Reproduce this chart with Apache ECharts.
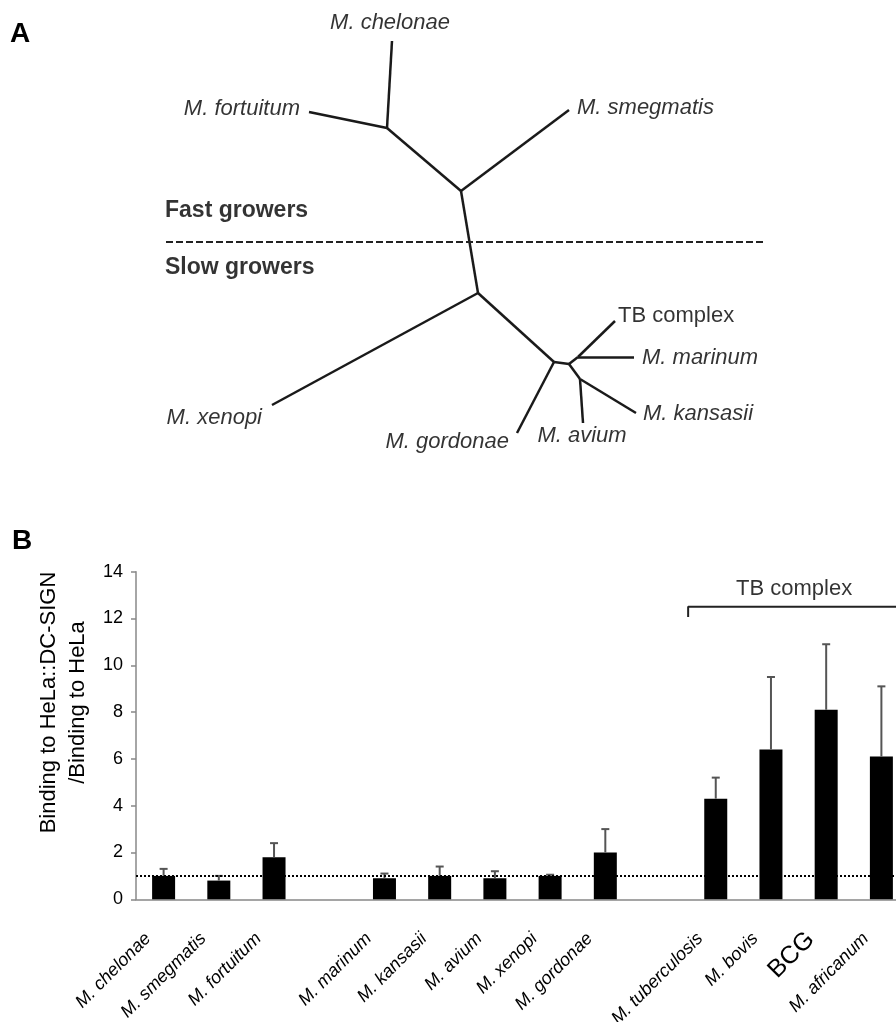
<!DOCTYPE html>
<html><head><meta charset="utf-8">
<script src="https://cdn.jsdelivr.net/npm/echarts@6/dist/echarts.min.js"></script>
<style>html,body{margin:0;padding:0;background:#fff}#c{width:896px;height:1022px}</style>
</head><body><div id="c"></div>
<script>
// ---------- Panel B data ----------
const categories = ['M. chelonae','M. smegmatis','M. fortuitum','','M. marinum','M. kansasii','M. avium','M. xenopi','M. gordonae','','M. tuberculosis','M. bovis','BCG','M. africanum'];
const means      = [1.0, 0.8, 1.8, null, 0.9, 1.0, 0.9, 1.0, 2.0, null, 4.3, 6.4, 8.1, 6.1];
const errorTops  = [1.3, 1.0, 2.4, null, 1.1, 1.4, 1.2, 1.05, 3.0, null, 5.2, 9.5, 10.9, 9.1];
const yMin = 0, yMax = 14, yStep = 2;
const referenceLevel = 1;
const yTitle = 'Binding to HeLa::DC-SIGN\n/Binding to HeLa';
const bracketLabel = 'TB complex';
const bracketStart = 10, bracketEnd = 14.5, bracketLevel = 12.5, bracketFoot = 12.06;

// ---------- Panel A data (unrooted tree layout) ----------
const treeNodeIds = ['chelonae','fortuitum','smegmatis','F1','F0','S0','xenopi','S1','gordonae','S2','M','TB','marinum','S3','avium','kansasii'];
const treeNodeX   = [392, 309, 569, 387, 461, 478, 272, 554, 517, 569, 578, 615, 634, 580, 583, 636];
const treeNodeY   = [ 41, 112, 110, 128, 191, 293, 405, 362, 433, 364, 357, 321, 357, 379, 423, 413];
const treeEdges = [['chelonae','F1'],['fortuitum','F1'],['F1','F0'],['smegmatis','F0'],['F0','S0'],
  ['S0','xenopi'],['S0','S1'],['S1','gordonae'],['S1','S2'],['S2','M'],['M','TB'],['M','marinum'],
  ['S2','S3'],['S3','avium'],['S3','kansasii']];
const tipIds    = ['chelonae','fortuitum','smegmatis','xenopi','gordonae','avium','kansasii','marinum','TB'];
const tipLabels = ['M. chelonae','M. fortuitum','M. smegmatis','M. xenopi','M. gordonae','M. avium','M. kansasii','M. marinum','TB complex'];
const dividerY = 241.7, dividerX0 = 166, dividerX1 = 765;
const groupLabels = ['Fast growers','Slow growers'];
const groupLabelX = 165, groupLabelY = [211, 268];

// ---------- build ----------
const FONT = "'Liberation Sans', Arial, Helvetica, sans-serif";
const TXT = '#000';
const pos = id => { const i = treeNodeIds.indexOf(id); return [treeNodeX[i], treeNodeY[i]]; };
const tipStyle = {
  chelonae:  {align:'center', offset:[-2,-18]},
  fortuitum: {align:'right',  offset:[-9,-3]},
  smegmatis: {align:'left',   offset:[8,-2]},
  xenopi:    {align:'right',  offset:[-10,13]},
  gordonae:  {align:'right',  offset:[-8,9]},
  avium:     {align:'center', offset:[-1,13]},
  kansasii:  {align:'left',   offset:[7,1]},
  marinum:   {align:'left',   offset:[8,1]},
  TB:        {align:'left',   offset:[3,-5]}
};

const chart = echarts.init(document.getElementById('c'), null, {renderer:'canvas'});
const errData = means.map((m,i) => m == null ? null : [i, m, errorTops[i]]).filter(d => d);

const option = {
  animation: false,
  backgroundColor: '#fff',
  textStyle: {fontFamily: FONT},
  title: [
    {text:'A', left:10, top:20, padding:0, textStyle:{fontSize:28, fontWeight:'bold', color:TXT, fontFamily:FONT}},
    {text:'B', left:12, top:527, padding:0, textStyle:{fontSize:28, fontWeight:'bold', color:TXT, fontFamily:FONT}}
  ],
  grid: [
    {left:0, top:0, width:896, height:480, outerBoundsMode:'none', containLabel:false},
    {left:136, top:571.7, width:773, height:327.6, outerBoundsMode:'none', containLabel:false}
  ],
  xAxis: [
    {gridIndex:0, type:'value', min:0, max:896, show:false},
    {gridIndex:1, type:'category', data:categories,
      axisLine:{lineStyle:{color:'#888', width:1.5}}, axisTick:{show:false},
      axisLabel:{interval:0, rotate:45, margin:21, padding:[0,22,0,0], fontSize:18, fontStyle:'italic', color:TXT, fontFamily:FONT,
        hideOverlap:false,
        formatter: v => v === 'BCG' ? '{b|BCG}' : v,
        rich:{b:{fontSize:25, fontStyle:'normal', color:TXT, fontFamily:FONT}}}},
    {gridIndex:1, type:'value', min:0, max:14, show:false}
  ],
  yAxis: [
    {gridIndex:0, type:'value', min:0, max:480, inverse:true, show:false},
    {gridIndex:1, type:'value', min:yMin, max:yMax, interval:yStep,
      axisLine:{show:true, lineStyle:{color:'#888', width:1.5}},
      axisTick:{show:true, length:5, lineStyle:{color:'#888', width:1.5}},
      splitLine:{show:false},
      axisLabel:{fontSize:18, color:TXT, margin:13, fontFamily:FONT},
      name: yTitle, nameLocation:'middle', nameRotate:90, nameGap:43,
      nameTextStyle:{fontSize:22, lineHeight:29, color:TXT, fontFamily:FONT, padding:[0,0,0,66]}}
  ],
  series: [
    // tree branches
    {type:'lines', coordinateSystem:'cartesian2d', xAxisIndex:0, yAxisIndex:0, silent:true,
      lineStyle:{color:'#1a1a1a', width:2.5, opacity:1, curveness:0},
      data: treeEdges.map(e => ({coords:[pos(e[0]), pos(e[1])]}))},
    // divider
    {type:'lines', coordinateSystem:'cartesian2d', xAxisIndex:0, yAxisIndex:0, silent:true,
      lineStyle:{color:'#222', width:2, opacity:1, type:[7,3]},
      data:[{coords:[[dividerX0, dividerY],[dividerX1, dividerY]]}]},
    // tip labels
    {type:'scatter', xAxisIndex:0, yAxisIndex:0, symbolSize:0, silent:true,
      data: tipIds.map((id,i) => ({value: pos(id), name: tipLabels[i],
        label:{show:true, position:[0,0], verticalAlign:'middle', align: tipStyle[id].align, offset: tipStyle[id].offset,
          formatter:'{b}', fontSize:22, fontStyle: id === 'TB' ? 'normal' : 'italic', color:TXT, fontFamily:FONT}}))},
    // group labels
    {type:'scatter', xAxisIndex:0, yAxisIndex:0, symbolSize:0, silent:true,
      data: groupLabels.map((t,i) => ({value:[groupLabelX, groupLabelY[i]], name:t,
        label:{show:true, position:[0,0], align:'left', verticalAlign:'middle', formatter:'{b}', fontSize:23, fontWeight:'bold', color:TXT, fontFamily:FONT}}))},
    // bars
    {type:'bar', xAxisIndex:1, yAxisIndex:1, data:means, barWidth:23, itemStyle:{color:'#000'}, silent:true,
      markLine:{silent:true, symbol:'none', label:{show:false},
        lineStyle:{color:'#000', width:2, type:[2,2]}, data:[{yAxis:referenceLevel}]}},
    // error bars
    {type:'custom', xAxisIndex:1, yAxisIndex:1, data:errData, silent:true, z:3,
      renderItem:(params, api) => {
        const p0 = api.coord([api.value(0), api.value(1)]);
        const p1 = api.coord([api.value(0), api.value(2)]);
        const st = {stroke:'#555', lineWidth:2};
        return {type:'group', children:[
          {type:'line', shape:{x1:p0[0], y1:p0[1], x2:p1[0], y2:p1[1]}, style:st},
          {type:'line', shape:{x1:p1[0]-4, y1:p1[1], x2:p1[0]+4, y2:p1[1]}, style:st}
        ]};
      }},
    // TB complex bracket
    {type:'line', xAxisIndex:2, yAxisIndex:1, symbol:'none', silent:true,
      lineStyle:{color:'#222', width:2},
      data:[[bracketStart, bracketFoot],[bracketStart, bracketLevel],[bracketEnd, bracketLevel]]},
    {type:'scatter', xAxisIndex:2, yAxisIndex:1, symbolSize:0, silent:true,
      data:[{value:[11.92, 13.26], name:bracketLabel,
        label:{show:true, position:[0,0], align:'center', verticalAlign:'middle', formatter:'{b}', fontSize:22, color:TXT, fontFamily:FONT}}]}
  ]
};
chart.setOption(option);
</script>
</body></html>
